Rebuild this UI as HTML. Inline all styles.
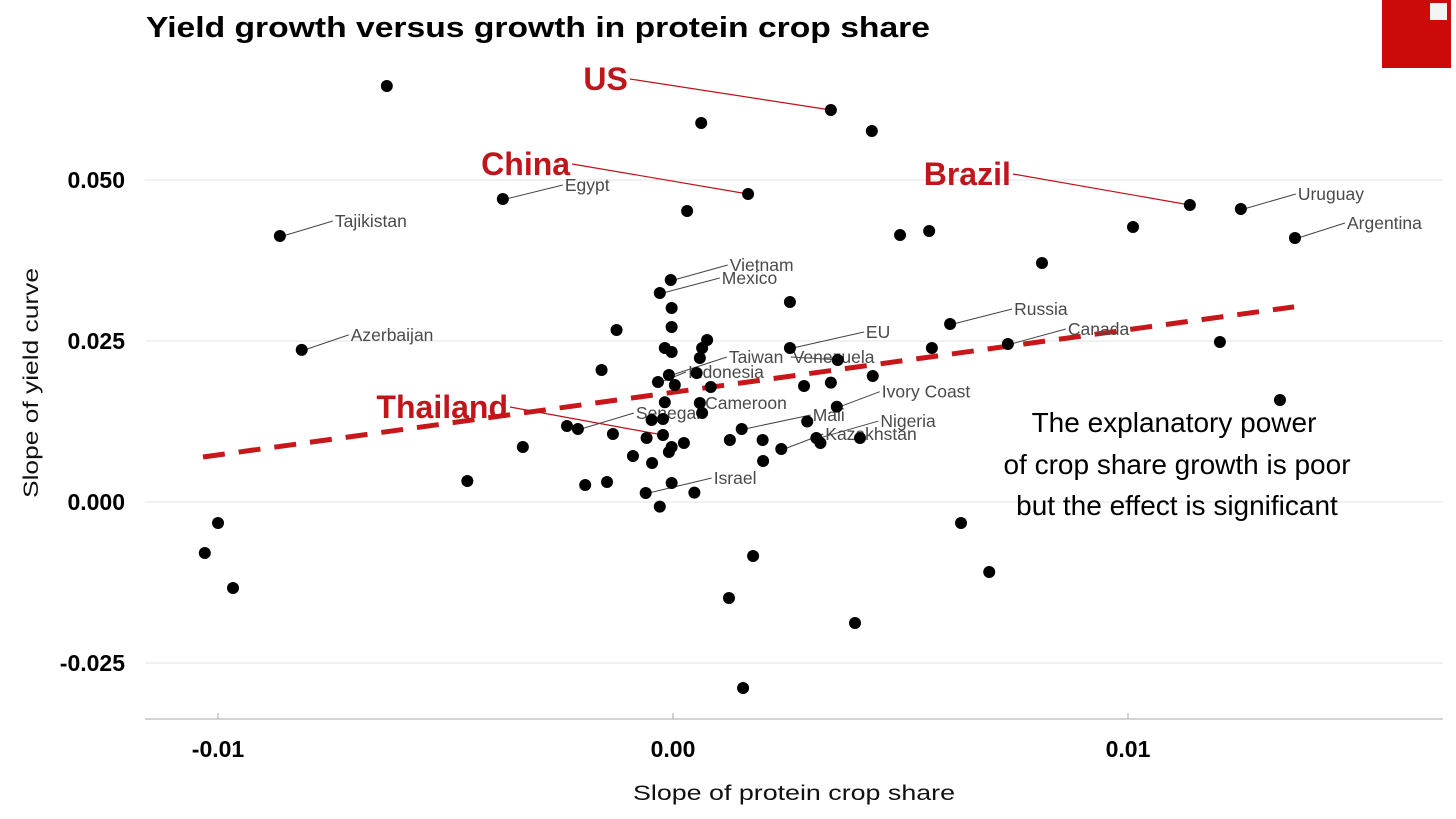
<!DOCTYPE html>
<html><head><meta charset="utf-8">
<style>
html,body{margin:0;padding:0;background:#fff;width:1456px;height:819px;overflow:hidden}
svg{display:block;font-family:"Liberation Sans",Arial,sans-serif}
</style></head>
<body>
<svg id="chart" width="1456" height="819" viewBox="0 0 1456 819">
<text x="146" y="37" font-size="29" font-weight="bold" textLength="784" lengthAdjust="spacingAndGlyphs" fill="#000">Yield growth versus growth in protein crop share</text>
<rect x="1382" y="0" width="69" height="68" fill="#cc0a0a"/>
<rect x="1430" y="3" width="17" height="17" fill="#f4f4f4"/>
<g id="grid"></g>
<g id="axes"></g>
<g id="fit"></g>
<g id="labels"></g>
<g id="pts"></g>
<text x="38" y="383" font-size="21" fill="#111" transform="rotate(-90 38 383)" text-anchor="middle" textLength="230" lengthAdjust="spacingAndGlyphs">Slope of yield curve</text>
<text x="794" y="800" font-size="21" fill="#111" text-anchor="middle" textLength="322" lengthAdjust="spacingAndGlyphs">Slope of protein crop share</text>
<g font-size="28" fill="#000" text-anchor="middle">
<text x="1174" y="432">The explanatory power</text>
<text x="1177" y="474">of crop share growth is poor</text>
<text x="1177" y="515">but the effect is significant</text>
</g>
</svg>
<script>
const xTicks=[-0.01,0,0.01];
const xTickLabels=["-0.01","0.00","0.01"];
const yTicks=[0.05,0.025,0,-0.025];
const yTickLabels=["0.050","0.025","0.000","-0.025"];
const xs=[-0.00629,0.00062,0.00347,0.00437,-0.00864,-0.00374,0.00165,0.00031,0.01136,0.01248,0.01367,0.01011,0.00499,0.00563,0.00811,-0.00816,0.00609,0.00736,0.01202,
-0.00005,-0.00029,-0.00003,-0.00003,-0.00124,0.00257,0.00075,0.00064,-0.00018,-0.00003,0.00059,0.00257,0.00362,-0.00157,-0.00009,0.00052,-0.00033,0.00004,0.00083,0.00288,0.00347,0.00439,-0.00018,0.00059,0.00064,0.00360,-0.00047,-0.00022,0.00295,0.00151,-0.00209,-0.00132,-0.00058,-0.00022,0.00125,0.00197,0.00324,0.00315,0.00411,0.00238,-0.00003,-0.00009,0.00024,-0.00088,-0.00046,0.00198,-0.00193,-0.00145,-0.00003,-0.00060,0.00047,-0.00029,-0.00330,-0.00452,-0.00233,
-0.01000,-0.01029,-0.00967,0.00176,0.00123,0.00154,0.00400,0.00633,0.00695,0.01334,0.00569];
const ys=[0.06460,0.05885,0.06087,0.05761,0.04131,0.04705,0.04783,0.04519,0.04612,0.04550,0.04099,0.04270,0.04145,0.04208,0.03711,0.02362,0.02764,0.02453,0.02484,
0.03447,0.03245,0.03012,0.02717,0.02671,0.03106,0.02516,0.02391,0.02391,0.02329,0.02236,0.02391,0.02205,0.02050,0.01972,0.02003,0.01863,0.01817,0.01786,0.01801,0.01853,0.01957,0.01548,0.01537,0.01382,0.01480,0.01273,0.01289,0.01250,0.01134,0.01134,0.01056,0.00994,0.01040,0.00963,0.00963,0.00916,0.00993,0.00994,0.00823,0.00854,0.00776,0.00916,0.00714,0.00606,0.00637,0.00264,0.00311,0.00295,0.00140,0.00146,-0.00072,0.00854,0.00326,0.01180,
-0.00326,-0.00792,-0.01335,-0.00839,-0.01491,-0.02888,-0.01879,-0.00326,-0.01087,0.01584,0.02391];
const fitX=[-0.01033,0.01365];
const fitY=[0.00699,0.0303];
const highlightNames=["US","China","Brazil","Thailand"];
const highlightIdx=[2,6,8,52];
const labelNames=["Egypt","Tajikistan","Azerbaijan","Vietnam","Mexico","EU","Taiwan","Venezuela","Indonesia","Cameroon","Senegal","Mali","Ivory Coast","Nigeria","Kazakhstan","Israel","Russia","Canada","Uruguay","Argentina"];
const labelIdx=[5,4,15,19,20,30,33,31,35,43,49,48,44,56,58,68,16,17,9,10];
const NS="http://www.w3.org/2000/svg";
const X=v=>673+v*45500, Y=v=>502-v*6440;
function mk(tag,attrs,parent){const e=document.createElementNS(NS,tag);for(const k in attrs)e.setAttribute(k,attrs[k]);document.getElementById(parent).appendChild(e);return e;}
yTicks.forEach((t,i)=>{
 const l=mk('line',{x1:145,x2:1443,y1:Y(t),y2:Y(t),stroke:'#e3e3e3','stroke-width':1},'grid');
 
 
 const tx=mk('text',{x:125,y:Y(t)+8,'font-size':23,'font-weight':'bold','text-anchor':'end',fill:'#000'},'axes');
 tx.textContent=yTickLabels[i];
 
 
});
const ax=mk('line',{x1:145,x2:1443,y1:719,y2:719,stroke:'#bbb','stroke-width':1.2},'axes');


xTicks.forEach((t,i)=>{
 const tk=mk('line',{x1:X(t),x2:X(t),y1:713,y2:719,stroke:'#aaa'},'axes');
 
 
 const tx=mk('text',{x:X(t),y:757,'font-size':23,'font-weight':'bold','text-anchor':'middle',fill:'#000'},'axes');
 tx.textContent=xTickLabels[i];
 
 
});
const fl=mk('line',{x1:X(fitX[0]),y1:Y(fitY[0]),x2:X(fitX[1]),y2:Y(fitY[1]),stroke:'#c8171b','stroke-width':5,'stroke-dasharray':'22 14'},'fit');


const lblOff={Egypt:[62,-14],Tajikistan:[55,-15],Azerbaijan:[49,-15],Vietnam:[59,-15],Mexico:[62,-15],EU:[76,-16],Taiwan:[60,-18],Venezuela:[-45,-3],Indonesia:[30,-10],Cameroon:[3,-10],Senegal:[58,-16],Mali:[71,-14],"Ivory Coast":[45,-15],Nigeria:[64,-17],Kazakhstan:[44,-15],Israel:[68,-15],Russia:[64,-15],Canada:[60,-15],Uruguay:[57,-15],Argentina:[52,-15]};
labelNames.forEach((n,i)=>{
 const px=X(xs[labelIdx[i]]),py=Y(ys[labelIdx[i]]);
 const o=lblOff[n];
 const ln=mk('line',{x1:px+3,y1:py,x2:px+o[0]-2,y2:py+o[1],stroke:'#444','stroke-width':1},'labels');
 
 
 const t=mk('text',{x:px+o[0],y:py+o[1]+6,'font-size':17.5,fill:'#4a4a4a'},'labels');
 t.textContent=n;
 
 
});
const hlOff={US:[-201,-31],China:[-176,-30],Brazil:[-177,-31],Thailand:[-153,-28]};
highlightNames.forEach((n,i)=>{
 const px=X(xs[highlightIdx[i]]),py=Y(ys[highlightIdx[i]]);
 const o=hlOff[n];
 const ln=mk('line',{x1:px,y1:py,x2:px+o[0],y2:py+o[1],stroke:'#c0101a','stroke-width':1.2},'labels');
 
 
 const t=mk('text',{x:px+o[0]-2,y:py+o[1]+11,'font-size':32,'font-weight':'bold','text-anchor':'end',fill:'#c0161b'},'labels');
 t.textContent=n;
 
 
});
xs.forEach((v,i)=>{
 const c=mk('circle',{cx:X(v),cy:Y(ys[i]),r:6,fill:'#000'},'pts');
 
 
});
</script>
</body></html>
